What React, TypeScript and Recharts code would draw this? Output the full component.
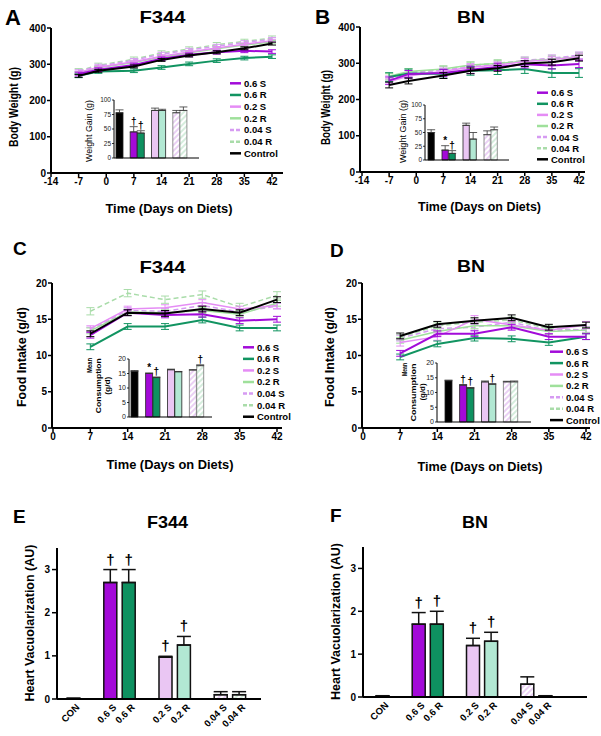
import React from 'react';
import { LineChart, Line, BarChart, Bar, XAxis, YAxis, ErrorBar, LabelList, Cell } from 'recharts';

const FONT = '"Liberation Sans", Arial, Helvetica, sans-serif';

// line series, legend order
const SERIES = ['0.6 S', '0.6 R', '0.2 S', '0.2 R', '0.04 S', '0.04 R', 'Control'];
const LINE_COLORS = ['#a20bd9', '#119461', '#e58cf5', '#9fe09b', '#d69bf2', '#a9dca9', '#000000'];
const LINE_DASH = ['', '', '', '', '5 3', '5 3', ''];
const LINE_WIDTH = [2, 2, 1.5, 1.5, 1.5, 1.5, 2];
const DRAW_ORDER = [5, 4, 3, 2, 1, 0, 6];

const BW_DAYS = [-7, -2, 7, 14, 21, 28, 35, 42];
const FI_DAYS = [7, 14, 21, 28, 35, 42];

// A: body weight F344 (g)
const A_06S = [273, 285, 298, 315, 326, 333, 337, 335];
const A_06R = [268, 280, 282, 291, 301, 310, 317, 321];
const A_02S = [277, 292, 307, 322, 334, 345, 355, 365];
const A_02R = [276, 290, 305, 320, 332, 343, 353, 362];
const A_004S = [280, 295, 311, 328, 339, 350, 360, 369];
const A_004R = [282, 297, 314, 331, 342, 354, 363, 372];
const A_CON = [268, 282, 294, 312, 324, 333, 344, 357];
const A_SEM = [5, 5, 4, 4, 5, 6, 4];

// B: body weight BN (g)
const B_06S = [252, 270, 273, 282, 290, 297, 294, 298];
const B_06R = [262, 272, 271, 279, 281, 284, 273, 273];
const B_02S = [249, 265, 278, 289, 295, 305, 310, 318];
const B_02R = [264, 277, 284, 295, 299, 306, 311, 318];
const B_004S = [256, 272, 281, 290, 297, 308, 314, 322];
const B_004R = [261, 275, 283, 294, 300, 307, 312, 320];
const B_CON = [240, 251, 266, 279, 286, 299, 303, 314];
const B_SEM = [10, 12, 8, 8, 9, 10, 8];

// C: food intake F344 (g/d)
const C_06S = [12.8, 15.9, 15.6, 15.7, 14.8, 15.0];
const C_06R = [11.2, 14.0, 14.0, 14.9, 13.8, 13.8];
const C_02S = [13.7, 16.4, 16.6, 17.3, 16.4, 16.9];
const C_02R = [13.4, 16.0, 15.9, 16.2, 15.7, 17.2];
const C_004S = [13.5, 16.2, 16.1, 16.9, 16.0, 16.8];
const C_004R = [16.1, 18.6, 17.7, 18.4, 16.7, 18.3];
const C_CON = [13.0, 15.9, 15.8, 16.4, 15.9, 17.7];
const C_SEM = [0.4, 0.4, 0.4, 0.4, 0.4, 0.5, 0.4];

// D: food intake BN (g/d)
const D_06S = [10.3, 13.0, 13.0, 13.9, 12.6, 12.6];
const D_06R = [9.8, 11.6, 12.4, 12.3, 11.8, 12.6];
const D_02S = [11.8, 12.6, 15.0, 14.2, 13.5, 14.2];
const D_02R = [12.1, 13.3, 14.1, 14.1, 13.3, 13.5];
const D_004S = [12.4, 13.7, 13.9, 14.6, 13.4, 13.6];
const D_004R = [12.5, 14.1, 14.6, 14.9, 13.7, 13.5];
const D_CON = [12.7, 14.3, 14.8, 15.2, 13.9, 14.2];
const D_SEM = [0.4, 0.4, 0.5, 0.4, 0.4, 0.4, 0.4];

// bar groups (insets and E/F)
const GROUPS = ['CON', '0.6 S', '0.6 R', '0.2 S', '0.2 R', '0.04 S', '0.04 R'];

const A_GAIN = [78, 45, 43, 82, 82, 78, 82];
const A_GAIN_SEM = [5, 9, 4, 4, 2, 4, 6];
const A_GAIN_MARK = ['', '†', '†', '', '', '', ''];

const B_GAIN = [50, 18, 12, 63, 38, 46, 55];
const B_GAIN_SEM = [5, 8, 5, 4, 12, 7, 5];
const B_GAIN_MARK = ['', '*', '†', '', '', '', ''];

const C_CONS = [15.8, 15.0, 13.6, 16.3, 15.6, 16.2, 17.7];
const C_CONS_SEM = [0.2, 0.2, 0.2, 0.2, 0.1, 0.1, 0.3];
const C_CONS_MARK = ['', '*', '†', '', '', '', '†'];

const D_CONS = [14.0, 12.5, 11.5, 13.6, 12.8, 13.6, 13.6];
const D_CONS_SEM = [0.2, 0.2, 0.2, 0.3, 0.2, 0.2, 0.3];
const D_CONS_MARK = ['', '†', '†', '', '†', '', ''];

const E_VAC = [0.01, 2.7, 2.7, 0.97, 1.25, 0.1, 0.1];
const E_VAC_SEM = [0.01, 0.3, 0.3, 0.02, 0.2, 0.07, 0.07];
const F_VAC = [0.02, 1.7, 1.7, 1.2, 1.3, 0.3, 0.02];
const F_VAC_SEM = [0.01, 0.27, 0.3, 0.17, 0.21, 0.17, 0.01];
const VAC_MARK = ['', '†', '†', '†', '†', '', ''];

const SOLID_FILLS = ['#000000', '#a30ad8', '#0e9160', '#eac6f3', '#b2e8d3'];

function barRows(values: number[], sem: number[], marks: string[]) {
  const rows: any[] = [];
  GROUPS.forEach((g, i) => {
    rows.push({ name: g, v: values[i], err: [0, sem[i]], mark: marks[i], idx: i });
    if (i === 0 || i === 2 || i === 4) rows.push({ name: 'gap' + i, v: null, err: null, mark: '', idx: -1 });
  });
  return rows;
}

function fillFor(id: string, idx: number) {
  if (idx < 0) return 'none';
  if (idx === 5) return `url(#${id}-hs)`;
  if (idx === 6) return `url(#${id}-hr)`;
  return SOLID_FILLS[idx];
}

function Hatches({ id }: { id: string }) {
  return (
    <defs>
      <pattern id={`${id}-hs`} patternUnits="userSpaceOnUse" width={4} height={4} patternTransform="rotate(45)">
        <rect width={4} height={4} fill="#ffffff" />
        <line x1={1} y1={0} x2={1} y2={4} stroke="#dcb2ee" strokeWidth={1.2} />
      </pattern>
      <pattern id={`${id}-hr`} patternUnits="userSpaceOnUse" width={4} height={4} patternTransform="rotate(45)">
        <rect width={4} height={4} fill="#ffffff" />
        <line x1={1} y1={0} x2={1} y2={4} stroke="#b9e2c6" strokeWidth={1.2} />
      </pattern>
    </defs>
  );
}

// significance marks sit above the error bar; index counts only drawn bars
const markLabel = (rows: any[], fontSize: number, gap: number) => {
  const drawn = rows.filter((r) => r.idx >= 0);
  return (p: any) => {
    if (!p.value) return null;
    let r = drawn[p.index];
    if (!r || r.mark !== p.value) r = rows[p.index];
    if (!r || !r.v) return null;
    const h = Math.abs(p.height);
    const errPx = (r.err[1] * h) / r.v;
    return (
      <text x={p.x + p.width / 2} y={p.y - errPx - gap} textAnchor="middle" fontSize={fontSize} fontWeight="bold" fontFamily={FONT} fill="#000">
        {p.value}
      </text>
    );
  };
};

type Box = [number, number, number, number];

function TimeCourse(props: {
  box: Box; plot: Box; days: number[]; series: number[][]; sem: number[];
  xDomain: [number, number]; xTicks: number[]; xPad: { left: number; right: number };
  yMax: number; yTicks: number[];
}) {
  const { box, plot, days, series, sem, xDomain, xTicks, xPad, yMax, yTicks } = props;
  const [bx, by, bw, bh] = box;
  const [pl, pt, pr, pb] = plot;
  const rows = days.map((d, i) => {
    const r: any = { day: d };
    series.forEach((s, k) => {
      r['s' + k] = s[i];
      r['e' + k] = sem[k];
    });
    return r;
  });
  const tickStyle = { fontSize: 10, fontWeight: 'bold', fill: '#000', fontFamily: FONT };
  return (
    <div style={{ position: 'absolute', left: bx, top: by }}>
      <LineChart width={bw} height={bh} data={rows} margin={{ top: pt - by, right: bx + bw - pr, bottom: 0, left: 0 }}>
        <XAxis dataKey="day" type="number" domain={xDomain} ticks={xTicks} padding={xPad} height={by + bh - pb}
          axisLine={{ stroke: '#000', strokeWidth: 2 }} tickLine={{ stroke: '#000', strokeWidth: 1.5 }}
          tickSize={4} tickMargin={1} tick={tickStyle} interval={0} />
        <YAxis type="number" domain={[0, yMax]} ticks={yTicks} width={pl - bx}
          axisLine={{ stroke: '#000', strokeWidth: 2 }} tickLine={{ stroke: '#000', strokeWidth: 1.5 }}
          tickSize={4} tickMargin={1} tick={tickStyle} interval={0} />
        {DRAW_ORDER.map((k) => (
          <Line key={k} type="linear" dataKey={'s' + k} stroke={LINE_COLORS[k]} strokeWidth={LINE_WIDTH[k]}
            strokeDasharray={LINE_DASH[k] || undefined} dot={false} activeDot={false} isAnimationActive={false}>
            <ErrorBar dataKey={'e' + k} width={4} strokeWidth={1} stroke={LINE_COLORS[k]} direction="y" />
          </Line>
        ))}
      </LineChart>
    </div>
  );
}

function Inset(props: {
  id: string; axisX: number; yTop: number; yBottom: number; xEnd: number;
  pad: { left: number; right: number }; yMax: number; yTicks: number[];
  values: number[]; sem: number[]; marks: string[]; tickSize: number;
}) {
  const { id, axisX, yTop, yBottom, xEnd, pad, yMax, yTicks, values, sem, marks, tickSize } = props;
  const yw = 22;
  const left = axisX - yw;
  const top = yTop - 5;
  const rows = barRows(values, sem, marks);
  return (
    <div style={{ position: 'absolute', left, top }}>
      <BarChart width={xEnd - left} height={yBottom - top + 6} data={rows} margin={{ top: 5, right: 0, bottom: 5, left: 0 }}
        barCategoryGap={0} barGap={0}>
        <Hatches id={id} />
        <XAxis dataKey="name" tick={false} tickLine={false} height={1} padding={pad} axisLine={{ stroke: '#000', strokeWidth: 1 }} />
        <YAxis type="number" domain={[0, yMax]} ticks={yTicks} width={yw} interval={0}
          axisLine={{ stroke: '#000', strokeWidth: 1 }} tickLine={{ stroke: '#000', strokeWidth: 0.8 }}
          tickSize={2} tickMargin={1} tick={{ fontSize: tickSize, fill: '#222', fontFamily: FONT }} />
        <Bar dataKey="v" barSize={7} isAnimationActive={false}>
          {rows.map((r, i) => (
            <Cell key={i} fill={fillFor(id, r.idx)} stroke={r.idx >= 5 ? '#777' : '#222'} strokeWidth={0.8} />
          ))}
          <ErrorBar dataKey="err" width={4} stroke="#333" strokeWidth={0.8} direction="y" />
          <LabelList dataKey="mark" content={markLabel(rows, 10, 2)} />
        </Bar>
      </BarChart>
    </div>
  );
}

const SlantTick = (props: any) => {
  const { x, y, payload } = props;
  if (String(payload.value).startsWith('gap')) return null;
  const ex = x + 7;
  const ey = y + 9;
  return (
    <text x={ex} y={ey} transform={`rotate(-45 ${ex} ${ey})`} textAnchor="end" fontSize={9.5} fontWeight="bold" fontFamily={FONT} fill="#000">
      {payload.value}
    </text>
  );
};

function Vacuole(props: {
  id: string; axisX: number; yTop: number; yBottom: number; xEnd: number;
  pad: { left: number; right: number }; values: number[]; sem: number[];
}) {
  const { id, axisX, yTop, yBottom, xEnd, pad, values, sem } = props;
  const yw = 50;
  const left = axisX - yw;
  const top = yTop - 8;
  const rows = barRows(values, sem, VAC_MARK);
  return (
    <div style={{ position: 'absolute', left, top }}>
      <BarChart width={xEnd - left} height={yBottom - top + 36} data={rows} margin={{ top: 8, right: 0, bottom: 0, left: 0 }}
        barCategoryGap={0} barGap={0}>
        <Hatches id={id} />
        <XAxis dataKey="name" tick={<SlantTick />} tickLine={false} tickSize={0} tickMargin={0} height={36} padding={pad} interval={0}
          axisLine={{ stroke: '#000', strokeWidth: 2 }} />
        <YAxis type="number" domain={[0, 3.5]} ticks={[0, 1, 2, 3]} width={yw} interval={0}
          axisLine={{ stroke: '#000', strokeWidth: 2 }} tickLine={{ stroke: '#000', strokeWidth: 1.5 }}
          tickSize={5} tickMargin={2} tick={{ fontSize: 10, fontWeight: 'bold', fill: '#000', fontFamily: FONT }} />
        <Bar dataKey="v" barSize={13} isAnimationActive={false}>
          {rows.map((r, i) => (
            <Cell key={i} fill={fillFor(id, r.idx)} stroke="#111" strokeWidth={1.5} />
          ))}
          <ErrorBar dataKey="err" width={7} stroke="#111" strokeWidth={1.5} direction="y" />
          <LabelList dataKey="mark" content={markLabel(rows, 15, 5)} />
        </Bar>
      </BarChart>
    </div>
  );
}

function LegendBlock({ x, y, dy, len }: { x: number; y: number; dy: number; len: number }) {
  return (
    <g>
      {SERIES.map((s, i) => (
        <g key={s}>
          <line x1={x} x2={x + len} y1={y + i * dy} y2={y + i * dy} stroke={LINE_COLORS[i]} strokeWidth={2.5}
            strokeDasharray={LINE_DASH[i] ? '4 2' : undefined} />
          <text x={x + len + 3} y={y + i * dy + 3.4} fontSize={9.5} fontWeight="bold" fontFamily={FONT} fill="#000">{s}</text>
        </g>
      ))}
    </g>
  );
}

function VText({ x, y, len, size, children, bold = true, anchor = 'middle' }: any) {
  return (
    <text x={x} y={y} transform={`rotate(-90 ${x} ${y})`} textAnchor={anchor} fontSize={size} fontWeight={bold ? 'bold' : 'normal'}
      fontFamily={FONT} fill="#000" textLength={len} lengthAdjust="spacingAndGlyphs">{children}</text>
  );
}

function HText({ x, y, len, size, children, anchor = 'middle' }: any) {
  return (
    <text x={x} y={y} textAnchor={anchor} fontSize={size} fontWeight="bold" fontFamily={FONT} fill="#000"
      textLength={len} lengthAdjust="spacingAndGlyphs">{children}</text>
  );
}

export default function App() {
  const bwTicks = [-14, -7, 0, 7, 14, 21, 28, 35, 42];
  const fiTicks = [0, 7, 14, 21, 28, 35, 42];
  return (
    <div style={{ position: 'absolute', left: 0, top: 0, width: 601, height: 736, background: '#fff', fontFamily: FONT, overflow: 'hidden' }}>
      <TimeCourse box={[0, 20, 300, 175]} plot={[51, 28, 283, 173]} days={BW_DAYS}
        series={[A_06S, A_06R, A_02S, A_02R, A_004S, A_004R, A_CON]} sem={A_SEM}
        xDomain={[-14, 42]} xTicks={bwTicks} xPad={{ left: 0, right: 11 }} yMax={400} yTicks={[0, 100, 200, 300, 400]} />
      <TimeCourse box={[300, 19, 300, 175]} plot={[360, 27, 585, 172]} days={BW_DAYS}
        series={[B_06S, B_06R, B_02S, B_02R, B_004S, B_004R, B_CON]} sem={B_SEM}
        xDomain={[-14, 42]} xTicks={bwTicks} xPad={{ left: 2, right: 6 }} yMax={400} yTicks={[0, 100, 200, 300, 400]} />
      <TimeCourse box={[0, 275, 300, 175]} plot={[52, 283, 282, 428]} days={FI_DAYS}
        series={[C_06S, C_06R, C_02S, C_02R, C_004S, C_004R, C_CON]} sem={C_SEM}
        xDomain={[0, 42]} xTicks={fiTicks} xPad={{ left: 1, right: 5 }} yMax={20} yTicks={[0, 5, 10, 15, 20]} />
      <TimeCourse box={[300, 275, 300, 175]} plot={[362, 283, 590, 428]} days={FI_DAYS}
        series={[D_06S, D_06R, D_02S, D_02R, D_004S, D_004R, D_CON]} sem={D_SEM}
        xDomain={[0, 42]} xTicks={fiTicks} xPad={{ left: 1, right: 4 }} yMax={20} yTicks={[0, 5, 10, 15, 20]} />

      <Inset id="ia" axisX={114} yTop={100} yBottom={158} xEnd={199} pad={{ left: 2, right: 12 }} yMax={100}
        yTicks={[0, 25, 50, 75, 100]} values={A_GAIN} sem={A_GAIN_SEM} marks={A_GAIN_MARK} tickSize={6.5} />
      <Inset id="ib" axisX={425} yTop={105} yBottom={160} xEnd={509} pad={{ left: 3, right: 11 }} yMax={100}
        yTicks={[0, 25, 50, 75, 100]} values={B_GAIN} sem={B_GAIN_SEM} marks={B_GAIN_MARK} tickSize={6.5} />
      <Inset id="ic" axisX={129} yTop={359} yBottom={417} xEnd={212} pad={{ left: 2, right: 8 }} yMax={20}
        yTicks={[0, 5, 10, 15, 20]} values={C_CONS} sem={C_CONS_SEM} marks={C_CONS_MARK} tickSize={7} />
      <Inset id="id" axisX={437} yTop={363} yBottom={422} xEnd={531} pad={{ left: 8, right: 13 }} yMax={20}
        yTicks={[0, 5, 10, 15, 20]} values={D_CONS} sem={D_CONS_SEM} marks={D_CONS_MARK} tickSize={7} />

      <Vacuole id="ve" axisX={57} yTop={548} yBottom={699} xEnd={261} pad={{ left: 7, right: 13 }} values={E_VAC} sem={E_VAC_SEM} />
      <Vacuole id="vf" axisX={363} yTop={547} yBottom={697} xEnd={587} pad={{ left: 10, right: 33 }} values={F_VAC} sem={F_VAC_SEM} />

      <svg width={601} height={736} style={{ position: 'absolute', left: 0, top: 0, pointerEvents: 'none' }}>
        {/* panel letters */}
        <HText x={5} y={25} size={22} anchor="start">A</HText>
        <HText x={315} y={24} size={21} anchor="start">B</HText>
        <HText x={13} y={255} size={19} anchor="start">C</HText>
        <HText x={330} y={257} size={19} anchor="start">D</HText>
        <HText x={13} y={523} size={19} anchor="start">E</HText>
        <HText x={330} y={522} size={19} anchor="start">F</HText>
        {/* titles */}
        <HText x={162.5} y={23.3} size={16.5} len={46}>F344</HText>
        <HText x={471} y={23.3} size={16.5} len={28}>BN</HText>
        <HText x={162.5} y={273} size={16.5} len={46}>F344</HText>
        <HText x={471} y={272} size={16.5} len={28}>BN</HText>
        <HText x={167.5} y={528} size={16.5} len={41}>F344</HText>
        <HText x={475} y={528} size={16.5} len={26}>BN</HText>
        {/* axis titles */}
        <HText x={169} y={213} size={13} len={127}>Time (Days on Diets)</HText>
        <HText x={479.5} y={211} size={13} len={123}>Time (Days on Diets)</HText>
        <HText x={170} y={469} size={13} len={127}>Time (Days on Diets)</HText>
        <HText x={480} y={471} size={13} len={125}>Time (Days on Diets)</HText>
        <VText x={17.5} y={107} size={13} len={80}>Body Weight (g)</VText>
        <VText x={329.5} y={107.5} size={13} len={75}>Body Weight (g)</VText>
        <VText x={26} y={357} size={13} len={100}>Food Intake (g/d)</VText>
        <VText x={334} y={357} size={13} len={100}>Food Intake (g/d)</VText>
        <VText x={33.5} y={623} size={12} len={157}>Heart Vacuolarization (AU)</VText>
        <VText x={340} y={621.5} size={12} len={157}>Heart Vacuolarization (AU)</VText>
        {/* inset axis titles */}
        <VText x={92} y={131} size={8.5} len={62} bold={false}>Weight Gain (g)</VText>
        <VText x={406} y={131.5} size={8.5} len={63} bold={false}>Weight Gain (g)</VText>
        <VText x={91.7} y={358} size={8} len={15} anchor="end">Mean</VText>
        <VText x={101.5} y={385.7} size={8} len={55}>Consumption</VText>
        <VText x={110} y={385.7} size={8} len={18}>(g/d)</VText>
        <VText x={407} y={363} size={8} len={13} anchor="end">Mean</VText>
        <VText x={415.5} y={392.5} size={8} len={58}>Consumption</VText>
        <VText x={424.5} y={392} size={8} len={17}>(g/d)</VText>
        {/* legends */}
        <LegendBlock x={230} y={83.3} dy={11.67} len={11} />
        <LegendBlock x={537} y={92.7} dy={11.1} len={11} />
        <LegendBlock x={243} y={347.3} dy={11.57} len={11} />
        <LegendBlock x={550} y={351.7} dy={11.4} len={13} />
      </svg>
    </div>
  );
}
